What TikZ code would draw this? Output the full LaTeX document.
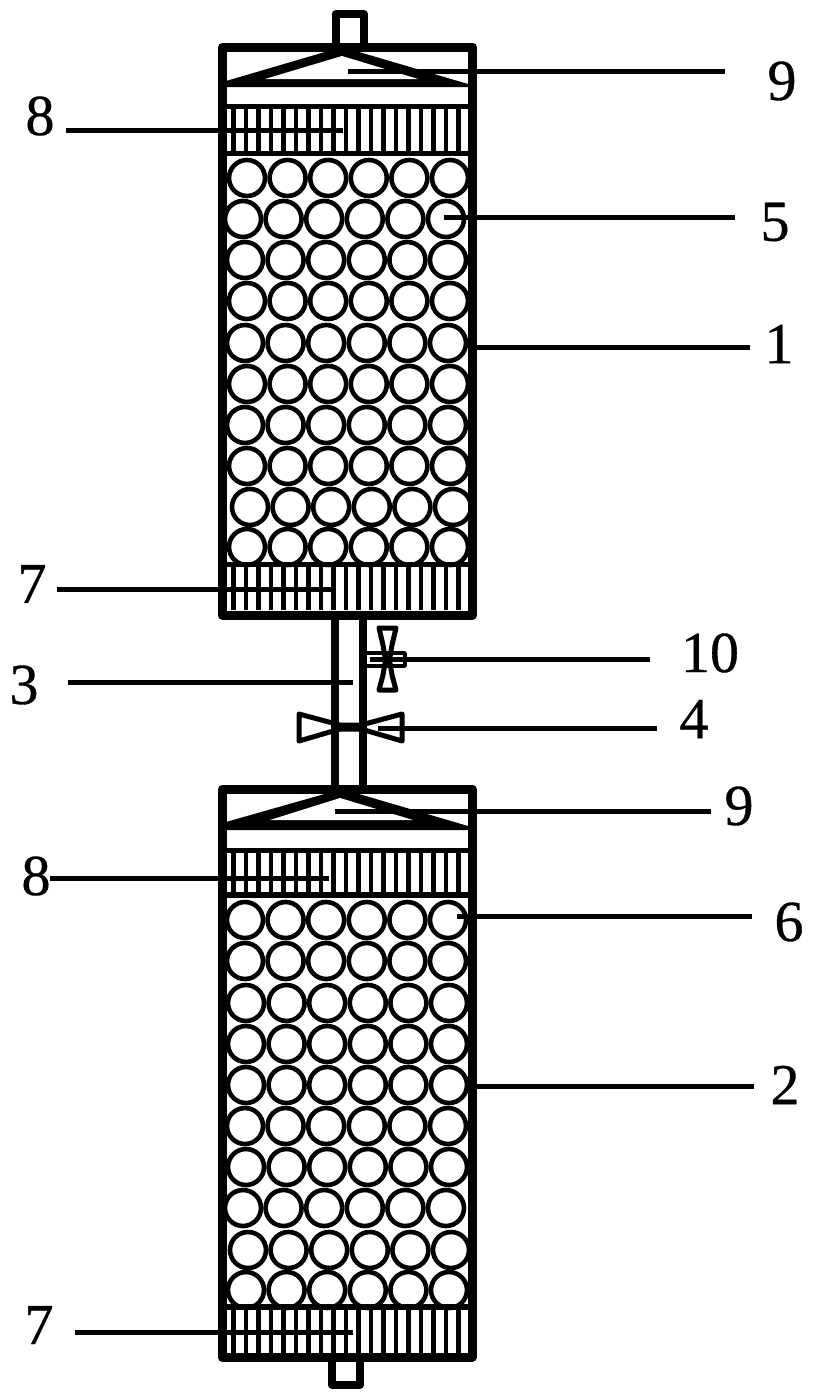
\documentclass[tikz,border=0pt]{standalone}
\usepackage{fontspec}
\setmainfont{Liberation Serif}
\newfontfamily\partfont{Liberation Serif}[FakeBold=0.6]
\tikzset{
	wall/.style={line width=9pt,line join=round},
	tube/.style={line width=8pt,line join=round},
	plate/.style={line width=5.5pt},
	bar/.style={line width=4.6pt},
	ball/.style={line width=4.6pt},
	valve/.style={line width=5pt,line join=round},
	handle/.style={line width=3.5pt,line join=round},
	leader/.style={line width=5pt},
	partno/.style={font=\partfont\fontsize{58}{58}\selectfont,inner sep=0pt}
}
\begin{document}
\begin{tikzpicture}[x=1pt,y=-1pt]
	\useasboundingbox (0,0) rectangle (816,1392);
	% top nozzle
	\draw[tube] (335.5,47) -- (335.5,14) -- (363.5,14) -- (363.5,47);
	% upper vessel
	\foreach \n in {0,...,18} {
		\draw[bar] ({233.5+12.5*\n},106.5) -- ({233.5+12.5*\n},153.5);
		\draw[bar] ({233.5+12.5*\n},564.5) -- ({233.5+12.5*\n},610);
	}
	\foreach \rowy/\rowx in {178/247,219/243,260/245,301/247,343/245,384/247,425/245,466/247,507/250,547/247} {
		\foreach \n in {0,...,5}
			\draw[ball] ({\rowx+40.6*\n},\rowy) circle (18);
	}
	\draw[wall] (222,47) rectangle (472.5,615);
	\fill (226,81) -- (342,47) -- (468,84) -- (468,87) -- (226,87) -- cycle;
	\fill[white] (265,79) -- (342,56) -- (418,79) -- cycle;
	\draw[plate] (226,106.5) -- (468,106.5);
	\draw[plate] (226,153.5) -- (468,153.5);
	\draw[plate] (226,564.5) -- (468,564.5);
	% pipe
	\draw[tube] (335,619) -- (335,786);
	\draw[tube] (363,619) -- (363,786);
	% valve on the side branch
	\draw[handle] (365,653) -- (405,653) -- (405,666) -- (365,666);
	\draw[valve] (379,628) -- (396,628) -- (392,645) -- (389.5,660) -- (392,675) -- (396,690) -- (379,690) -- (383,675) -- (385.5,660) -- (383,645) -- cycle;
	% valve on the pipe
	\draw[valve] (299,714) -- (340,725) -- (361,725) -- (402,714) -- (402,741) -- (361,729) -- (340,729) -- (299,741) -- cycle;
	% lower vessel
	\foreach \n in {0,...,18} {
		\draw[bar] ({233.5+12.5*\n},850.5) -- ({233.5+12.5*\n},895);
		\draw[bar] ({233.5+12.5*\n},1307) -- ({233.5+12.5*\n},1353);
	}
	\foreach \rowy/\rowx in {920/245,961/245,1003/246,1044/246,1085/246,1126/245,1167/246,1208/243,1250/248,1290/246} {
		\foreach \n in {0,...,5}
			\draw[ball] ({\rowx+40.6*\n},\rowy) circle (18);
	}
	\draw[wall] (222,789) rectangle (472,1357);
	\fill (226,822) -- (342,789) -- (468,826) -- (468,830) -- (226,830) -- cycle;
	\fill[white] (270,820) -- (340,798) -- (413,820) -- cycle;
	\draw[plate] (226,850.5) -- (468,850.5);
	\draw[plate] (226,895) -- (468,895);
	\draw[plate] (226,1307) -- (468,1307);
	% bottom nozzle
	\draw[tube] (332,1360) -- (332,1385) -- (360,1385) -- (360,1360);
	% part numbers
	\node[partno] (nine) at (782,81) {9};
	\node[partno] (eight) at (40,116) {8};
	\node[partno] (five) at (775,222) {5};
	\node[partno] (one) at (779,344) {1};
	\node[partno] (seven) at (32,584) {7};
	\node[partno] (three) at (24,685) {3};
	\node[partno] (ten) at (710,653) {10};
	\node[partno] (four) at (694,719) {4};
	\node[partno] (nineb) at (739,806) {9};
	\node[partno] (eightb) at (36,876) {8};
	\node[partno] (six) at (789,922) {6};
	\node[partno] (two) at (785,1085) {2};
	\node[partno] (sevenb) at (39,1325) {7};
	% leader lines
	\foreach \lname/\ax/\ay/\bx in {a/348/71.5/725,b/66/130/343,c/444/217.5/735,d/472/347/750,e/57/589/333,f/68/682/353,g/370/659.5/650,h/378/728/657,i/335/811/711,j/50/878/329,k/457/916/752,l/472/1086/754,m/75/1332/353} {
		\coordinate (\lname from) at (\ax,\ay);
		\coordinate (\lname to) at (\bx,\ay);
		\draw[leader] (\lname from) -- (\lname to);
	}
\end{tikzpicture}
\end{document}
